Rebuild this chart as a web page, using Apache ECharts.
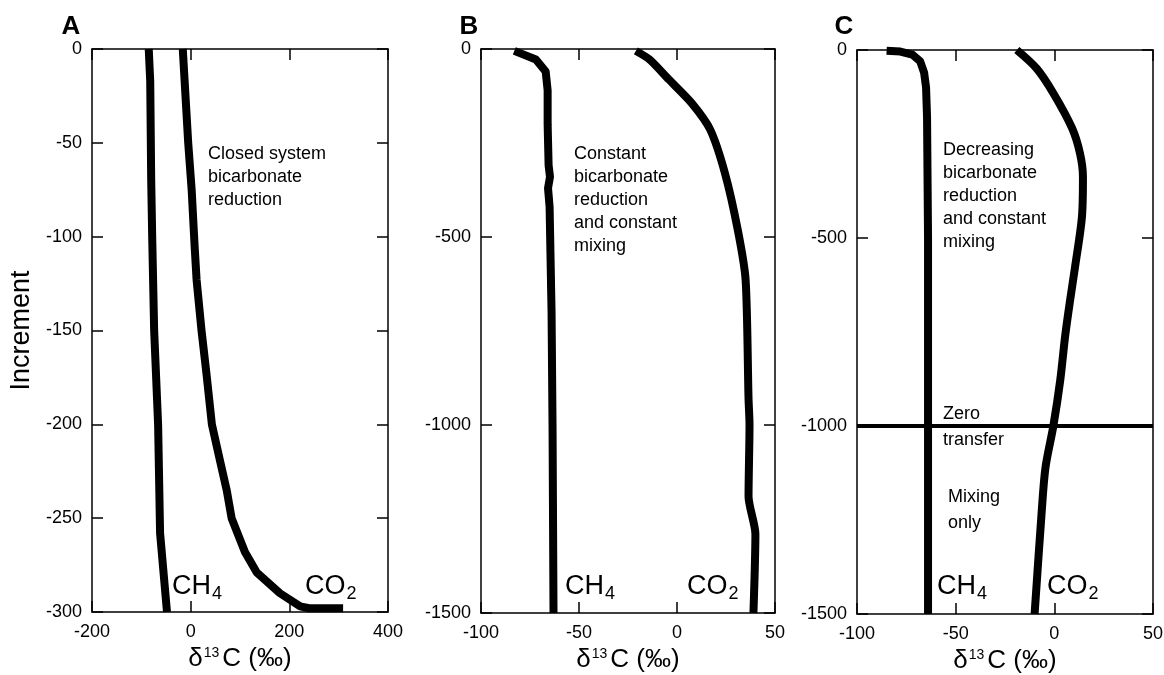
<!DOCTYPE html>
<html>
<head>
<meta charset="utf-8">
<script src="https://cdn.jsdelivr.net/npm/echarts@6/dist/echarts.min.js"></script>
<style>
html,body{margin:0;padding:0;background:#fff;}
#chart{width:1164px;height:675px;}
</style>
</head>
<body>
<div id="chart"></div>
<script>
// ---------- DATA ----------
// Panel A: closed system bicarbonate reduction (increment 0 .. -300)
const aCH4x = [-85, -82, -80, -78, -74, -66, -62, -48];
const aCH4y = [0, -17, -70, -100, -150, -200, -258, -300];
const aCO2x = [-16, -5, 2, 8, 12, 22, 32, 43, 60, 73, 83, 110, 134, 181, 222, 240, 309];
const aCO2y = [0, -50, -75, -105, -123, -150, -173, -200, -220, -235, -250, -268, -279, -290, -297, -298, -298];

// Panel B: constant bicarbonate reduction and constant mixing (0 .. -1500)
const bCH4x = [-83, -72, -67, -66, -66, -65.5, -64.8, -65.8, -65, -64, -63.5, -63];
const bCH4y = [-5, -28, -60, -110, -200, -310, -340, -370, -420, -700, -1000, -1500];
const bCO2x = [-21, -14, -4, 7.5, 17, 24.5, 31, 35, 36.5, 37, 36.5, 40, 39];
const bCO2y = [-5, -28, -82, -144, -215, -331, -481, -614, -930, -1000, -1190, -1290, -1500];

// Panel C: decreasing bicarbonate reduction and constant mixing (0 .. -1500)
const cCH4x = [-85, -78, -72, -68, -66, -65, -64.5, -64, -64];
const cCH4y = [-2, -4, -12, -30, -60, -100, -180, -500, -1500];
const cCO2x = [-19, -9, -0.5, 9, 13, 14.5, 14, 10.5, 8, 5.5, 3, -0.5, -4.5, -6.5, -10];
const cCO2y = [0, -49, -115, -208, -275, -337, -443, -577, -665, -760, -878, -1000, -1111, -1235, -1500];
const zeroTransferX = [-100, 50];
const zeroTransferY = [-1000, -1000];

// Axis ranges / ticks
const xRanges = [[-200, 400, 200], [-100, 50, 50], [-100, 50, 50]];
const yRanges = [[-300, 0, 50], [-1500, 0, 500], [-1500, 0, 500]];
const panelLetters = ['A', 'B', 'C'];
const notes = [
  'Closed system\nbicarbonate\nreduction',
  'Constant\nbicarbonate\nreduction\nand constant\nmixing',
  'Decreasing\nbicarbonate\nreduction\nand constant\nmixing'
];
const xName = '{a|δ}{s|13}{a|C (‰)}';
const yName = 'Increment';

// ---------- CHART ----------
const FF = "'Liberation Sans', Arial, Helvetica, sans-serif";
const chart = echarts.init(document.getElementById('chart'));
const grids = [
  {left: 92, top: 49, width: 296, height: 563},
  {left: 481, top: 49, width: 294, height: 564},
  {left: 857, top: 50, width: 296, height: 564}
].map(g => Object.assign(g, {containLabel: false, outerBoundsMode: 'none'}));
const axisLine = {show: true, onZero: false, lineStyle: {color: '#000', width: 1.5}};
const axisTick = {show: true, inside: true, length: 11, lineStyle: {color: '#000', width: 1.5}};
const fmt = v => String(v);
const xAxes = [], yAxes = [];
grids.forEach((g, i) => {
  const [xmin, xmax, xint] = xRanges[i];
  const [ymin, ymax, yint] = yRanges[i];
  xAxes.push({
    type: 'value', gridIndex: i, position: 'bottom', min: xmin, max: xmax, interval: xint,
    axisLine, axisTick, splitLine: {show: false},
    axisLabel: {color: '#000', fontSize: 18, fontFamily: FF, margin: 11, formatter: fmt},
    name: xName, nameLocation: 'middle', nameGap: 31,
    nameTextStyle: {
      color: '#000',
      rich: {
        a: {fontSize: 26, fontFamily: FF, color: '#000', lineHeight: 30},
        s: {fontSize: 14, fontFamily: FF, color: '#000', verticalAlign: 'top', padding: [2, 3, 0, 1]}
      }
    }
  });
  xAxes.push({
    type: 'value', gridIndex: i, position: 'top', min: xmin, max: xmax, interval: xint,
    axisLine, axisTick, splitLine: {show: false}, axisLabel: {show: false}
  });
  yAxes.push({
    type: 'value', gridIndex: i, position: 'left', min: ymin, max: ymax, interval: yint,
    axisLine, axisTick, splitLine: {show: false},
    axisLabel: {color: '#000', fontSize: 18, fontFamily: FF, margin: 10, formatter: fmt},
    name: i === 0 ? yName : '', nameLocation: 'middle', nameGap: 57, nameRotate: 90,
    nameTextStyle: {color: '#000', fontSize: 27, fontFamily: FF}
  });
  yAxes.push({
    type: 'value', gridIndex: i, position: 'right', min: ymin, max: ymax, interval: yint,
    axisLine, axisTick, splitLine: {show: false}, axisLabel: {show: false}
  });
});

function pairs(xs, ys) { return xs.map((x, k) => [x, ys[k]]); }
function curve(i, xs, ys, w) {
  return {
    type: 'line', xAxisIndex: 2 * i, yAxisIndex: 2 * i, data: pairs(xs, ys),
    showSymbol: false, symbol: 'none', clip: false, animation: false, silent: true,
    lineStyle: {color: '#000', width: w, cap: 'butt', join: 'round'}
  };
}
const series = [
  curve(0, aCH4x, aCH4y, 8), curve(0, aCO2x, aCO2y, 8),
  curve(1, bCH4x, bCH4y, 8), curve(1, bCO2x, bCO2y, 8),
  curve(2, cCH4x, cCH4y, 8), curve(2, cCO2x, cCO2y, 8),
  curve(2, zeroTransferX, zeroTransferY, 4)
];
series[3].smooth = 0.25; series[5].smooth = 0.3;

const letterPos = [[71, 27], [469, 27], [844, 27]];
const notePos = [[208, 143], [574, 143], [943, 139]];
const gasPos = [[[172, 587], [305, 587]], [[565, 587], [687, 587]], [[937, 587], [1047, 587]]];
const graphic = [];
panelLetters.forEach((L, i) => {
  graphic.push({type: 'text', x: letterPos[i][0], y: letterPos[i][1],
    style: {text: L, fontSize: 26, fontWeight: 'bold', fontFamily: FF, fill: '#000', align: 'center', verticalAlign: 'middle'}});
  graphic.push({type: 'text', x: notePos[i][0], y: notePos[i][1],
    style: {text: notes[i], fontSize: 18, fontFamily: FF, fill: '#000', lineHeight: 23, align: 'left', verticalAlign: 'top'}});
  ['{m|CH}{b|4}', '{m|CO}{b|2}'].forEach((t, k) => {
    graphic.push({type: 'text', x: gasPos[i][k][0], y: gasPos[i][k][1],
      style: {text: t, align: 'left', verticalAlign: 'middle', fill: '#000',
        rich: {
          m: {fontSize: 27, fontFamily: FF, fill: '#000', lineHeight: 32},
          b: {fontSize: 18, fontFamily: FF, fill: '#000', verticalAlign: 'bottom', padding: [0, 0, 0, 1]}
        }}});
  });
});
graphic.push({type: 'text', x: 943, y: 414, style: {text: 'Zero', fontSize: 18, fontFamily: FF, fill: '#000', verticalAlign: 'middle'}});
graphic.push({type: 'text', x: 943, y: 440, style: {text: 'transfer', fontSize: 18, fontFamily: FF, fill: '#000', verticalAlign: 'middle'}});
graphic.push({type: 'text', x: 948, y: 510, style: {text: 'Mixing\nonly', fontSize: 18, fontFamily: FF, fill: '#000', lineHeight: 26, verticalAlign: 'middle'}});

chart.setOption({
  animation: false,
  backgroundColor: '#fff',
  grid: grids,
  xAxis: xAxes,
  yAxis: yAxes,
  series,
  graphic
});
</script>
</body>
</html>
